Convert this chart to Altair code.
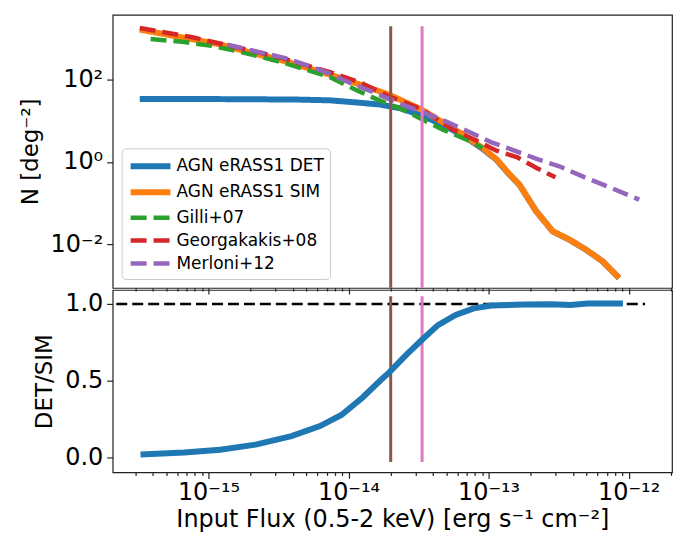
import altair as alt
import pandas as pd

# ---------------- data ----------------
series_names = ["AGN eRASS1 DET", "AGN eRASS1 SIM", "Gilli+07", "Georgakakis+08", "Merloni+12"]
series_colors = ["#1f77b4", "#ff7f0e", "#2ca02c", "#d62728", "#9467bd"]

det_flux = [3.23e-16, 8.77e-16, 1.99e-15, 4.52e-15, 7.38e-15, 1.11e-14, 1.68e-14, 2.33e-14,
            3.23e-14, 4.48e-14, 6.53e-14, 9.06e-14, 1.14e-13, 1.41e-13, 1.66e-13, 2.19e-13,
            2.87e-13, 3.78e-13, 4.96e-13, 6.52e-13, 8.55e-13]
det_n = [33.7, 33.7, 33.3, 32.6, 31.3, 28.0, 24.7, 20.1, 13.9, 8.65, 4.42, 2.07, 1.12,
         0.489, 0.275, 0.0623, 0.0203, 0.0127, 0.00728, 0.00378, 0.00149]

sim_flux = [3.23e-16, 7.69e-16, 1.20e-15, 1.83e-15, 3.20e-15, 7.38e-15, 1.21e-14, 1.94e-14,
            3.33e-14, 6.53e-14, 9.06e-14, 1.14e-13, 1.41e-13, 1.66e-13, 2.19e-13, 2.87e-13,
            3.78e-13, 4.96e-13, 6.52e-13, 8.55e-13]
sim_n = [1650, 955, 723, 489, 307, 132, 75.5, 43.2, 18.6, 4.67, 2.17, 1.15, 0.497, 0.279,
         0.0625, 0.0204, 0.0128, 0.00731, 0.00379, 0.00149]

gilli_flux = [3.86e-16, 6.75e-16, 1.02e-15, 1.53e-15, 2.27e-15, 3.42e-15, 7.38e-15, 1.15e-14,
              1.57e-14, 2.44e-14, 4.71e-14, 6.97e-14, 9.06e-14]
gilli_n = [973, 822, 672, 511, 369, 259, 115, 54.3, 34.1, 18.6, 6.07, 3.47, 2.17]

georg_flux = [3.23e-16, 7.69e-16, 1.83e-15, 3.20e-15, 7.38e-15, 1.21e-14, 1.94e-14, 3.33e-14,
              5.55e-14, 7.69e-14, 1.14e-13, 1.61e-13, 2.20e-13, 3.00e-13]
georg_n = [1800, 1069, 546, 349, 151, 85.9, 39.3, 18.9, 6.07, 3.66, 1.87, 1.28, 0.706, 0.420]

merl_flux = [1.36e-15, 2.27e-15, 3.48e-15, 5.07e-15, 7.38e-15, 1.06e-14, 1.57e-14, 2.29e-14,
             3.33e-14, 4.94e-14, 7.10e-14, 1.05e-13, 1.53e-13, 2.20e-13, 3.20e-13, 4.82e-13,
             7.03e-13, 1.19e-12]
merl_n = [711, 470, 339, 223, 138, 79.0, 46.5, 26.5, 16.5, 9.66, 5.52, 2.98, 1.88, 1.18,
          0.778, 0.425, 0.254, 0.120]

ratio_flux = [3.27e-16, 6.71e-16, 1.21e-15, 2.17e-15, 3.91e-15, 6.25e-15, 8.89e-15, 1.26e-14,
              1.70e-14, 1.96e-14, 2.56e-14, 3.36e-14, 4.35e-14, 5.82e-14, 7.82e-14, 1.05e-13,
              1.78e-13, 2.84e-13, 3.82e-13, 5.12e-13, 9.10e-13]
ratio_val = [0.018, 0.031, 0.05, 0.083, 0.138, 0.204, 0.276, 0.39, 0.504, 0.555, 0.664, 0.768,
             0.862, 0.928, 0.971, 0.989, 0.996, 0.998, 0.993, 1.002, 1.002]

vline_flux = [2.0e-14, 3.35e-14]
vline_colors = ["#8c564b", "#e377c2"]
vline_top_span = [8.6e-4, 2000]
vline_bot_span = [-0.03, 1.05]
hline_flux = [1e-16, 1.31e-12]
hline_value = 1.0

x_domain = [2.07e-16, 2.04e-12]
y_top_domain = [8.55e-4, 3.78e3]
y_bot_domain = [-0.098, 1.091]

# ---------------- tables ----------------
rows = []
for name, fx, fy in zip(series_names,
                        [det_flux, sim_flux, gilli_flux, georg_flux, merl_flux],
                        [det_n, sim_n, gilli_n, georg_n, merl_n]):
    for a, b in zip(fx, fy):
        rows.append({"series": name, "flux": a, "n": b})
df = pd.DataFrame(rows)
ratio_df = pd.DataFrame({"flux": ratio_flux, "ratio": ratio_val})
vtop_df = pd.DataFrame({"flux": vline_flux, "c": vline_colors,
                        "y1": [vline_top_span[0]] * 2, "y2": [vline_top_span[1]] * 2})
vbot_df = pd.DataFrame({"flux": vline_flux, "c": vline_colors,
                        "y1": [vline_bot_span[0]] * 2, "y2": [vline_bot_span[1]] * 2})
hline_df = pd.DataFrame({"flux": hline_flux, "v": [hline_value] * 2})

# ---------------- axis helpers ----------------
SUP = str.maketrans("-0123456789", "⁻⁰¹²³⁴⁵⁶⁷⁸⁹")


def sup(k):
    return str(k).translate(SUP)


xticks = []
for k in range(-16, -11):
    for m in range(1, 10):
        v = m * 10.0 ** k
        if x_domain[0] <= v <= x_domain[1]:
            xticks.append(v)

major_test = "abs(log(datum.value)/LN10 - round(log(datum.value)/LN10)) < 0.001"
x_label_expr = " : ".join(
    f"abs(datum.value - {10.0 ** k!r}) < {10.0 ** k * 0.01!r} ? '10{sup(k)}'" for k in range(-15, -11)
) + " : ''"
y_label_expr = " : ".join(
    f"abs(datum.value - {10.0 ** k!r}) < {10.0 ** k * 0.01!r} ? '10{sup(k)}'" for k in (-2, 0, 2)
) + " : ''"
tick_size = {"condition": {"test": major_test, "value": 6}, "value": 3}

xscale = alt.Scale(type="log", domain=x_domain, nice=False)
color_scale = alt.Scale(domain=series_names, range=series_colors)
dash_scale = alt.Scale(domain=series_names, range=[[1, 0], [1, 0], [16, 7], [16, 7], [16, 7]])
width_scale = alt.Scale(type="ordinal", domain=series_names, range=[6, 6, 4.5, 4.5, 4.5])
legend = alt.Legend(title=None, orient="bottom-left", offset=9, labelFontSize=17,
                    labelFont="DejaVu Sans", symbolType="M-1,0H3.44", symbolSize=324,
                    fillColor="rgba(255,255,255,0.85)", strokeColor="#cccccc",
                    cornerRadius=4, padding=6, rowPadding=2, labelOffset=25)

x_top = alt.X("flux:Q", scale=xscale,
              axis=alt.Axis(values=xticks, labels=False, title=None, tickSize=tick_size,
                            grid=False, domain=False, minExtent=0, maxExtent=0))
y_top = alt.Y("n:Q", scale=alt.Scale(type="log", domain=y_top_domain, nice=False),
              axis=alt.Axis(values=[0.01, 1, 100], labelExpr=y_label_expr, title="N [deg⁻²]",
                            grid=False, domain=False, tickSize=6))

layers = []
for name in series_names:
    layers.append(
        alt.Chart(df).transform_filter(alt.datum.series == name)
        .mark_line(clip=True)
        .encode(x=x_top, y=y_top,
                color=alt.Color("series:N", scale=color_scale, legend=legend, sort=series_names),
                strokeDash=alt.StrokeDash("series:N", scale=dash_scale, legend=legend, sort=series_names),
                strokeWidth=alt.StrokeWidth("series:N", scale=width_scale, legend=legend, sort=series_names))
    )
for i, col in enumerate(vline_colors):
    layers.append(
        alt.Chart(vtop_df).transform_filter(alt.datum.c == col)
        .mark_rule(color=col, strokeWidth=3, clip=True)
        .encode(x=alt.X("flux:Q", scale=xscale), y=alt.Y("y1:Q"), y2="y2:Q")
    )
top = alt.layer(*layers).properties(width=561, height=274)

x_bot = alt.X("flux:Q", scale=xscale,
              axis=alt.Axis(values=xticks, labelExpr=x_label_expr, labelOverlap=False,
                            title="Input Flux (0.5-2 keV) [erg s⁻¹ cm⁻²]", titleFontSize=24,
                            tickSize=tick_size, grid=False, domain=False,
                            labelPadding=2, titlePadding=3))
y_bot_scale = alt.Scale(domain=y_bot_domain, nice=False, zero=False)
bot_layers = [
    alt.Chart(hline_df).mark_line(color="black", strokeWidth=2.5, strokeDash=[11, 5], clip=True)
    .encode(x=x_bot, y=alt.Y("v:Q", scale=y_bot_scale)),
]
for col in vline_colors:
    bot_layers.append(
        alt.Chart(vbot_df).transform_filter(alt.datum.c == col)
        .mark_rule(color=col, strokeWidth=3, clip=True)
        .encode(x=alt.X("flux:Q", scale=xscale), y=alt.Y("y1:Q", scale=y_bot_scale), y2="y2:Q")
    )
bot_layers.append(
    alt.Chart(ratio_df).mark_line(color="#1f77b4", strokeWidth=6, clip=True)
    .encode(x=x_bot,
            y=alt.Y("ratio:Q", scale=y_bot_scale,
                    axis=alt.Axis(values=[0, 0.5, 1.0], format=".1f", title="DET/SIM",
                                  grid=False, domain=False, tickSize=6)))
)
bottom = alt.layer(*bot_layers).properties(width=561, height=183)

chart = (
    alt.vconcat(top, bottom, spacing=2, bounds="flush")
    .resolve_legend(color="independent", strokeDash="independent", strokeWidth="independent")
    .properties(padding={"left": 10, "top": 5, "right": 3, "bottom": 0})
    .configure_view(stroke="#222222", strokeWidth=1.2)
    .configure_axis(labelFont="DejaVu Sans", titleFont="DejaVu Sans", labelFontSize=24,
                    titleFontSize=23, titleFontWeight="normal", labelColor="black",
                    titleColor="black", tickColor="#222222", tickWidth=1.2, labelPadding=4,
                    titlePadding=8)
)
chart.save("out.html", embed_options={"renderer": "svg", "actions": False})
